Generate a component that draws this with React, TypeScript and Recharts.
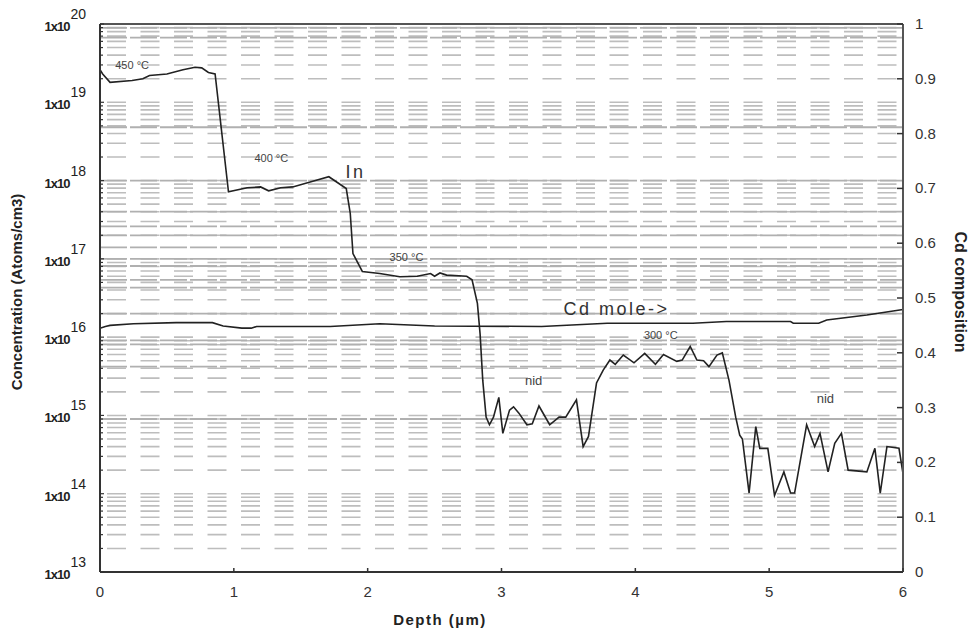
import React from "react"
import { ComposedChart, Line, XAxis, YAxis, ReferenceLine, ReferenceDot } from "recharts"

// In profile (depth in µm, concentration in atoms/cm3)
const IN_DEPTH = [
  0, 0.02, 0.075, 0.24, 0.32, 0.37, 0.5, 0.62, 0.71, 0.76, 0.81, 0.86, 0.96, 1.1, 1.2, 1.26, 1.35, 1.44,
  1.59, 1.71, 1.84, 1.87, 1.89, 1.96, 2.09, 2.24, 2.37, 2.47, 2.5, 2.54, 2.59, 2.74, 2.78, 2.82, 2.84,
  2.86, 2.885, 2.91, 2.94, 2.98, 3.01, 3.06, 3.09, 3.13, 3.19, 3.23, 3.28, 3.36, 3.43, 3.48, 3.56, 3.61,
  3.65, 3.71, 3.76, 3.81, 3.85, 3.91, 3.99, 4.07, 4.15, 4.21, 4.31, 4.35, 4.41, 4.46, 4.51, 4.55, 4.61,
  4.65, 4.7, 4.75, 4.78, 4.8, 4.85, 4.9, 4.93, 4.99, 5.04, 5.11, 5.16, 5.19, 5.28, 5.34, 5.38, 5.44,
  5.49, 5.54, 5.59, 5.73, 5.79, 5.83, 5.88, 5.97, 6.0,
]
const IN_CONC = [
  2.6e19, 2.3e19, 1.8e19, 1.9e19, 2.0e19, 2.2e19, 2.3e19, 2.6e19, 2.8e19, 2.75e19, 2.4e19, 2.3e19,
  7.2e17, 8.1e17, 8.3e17, 7.4e17, 8.1e17, 8.3e17, 9.8e17, 1.12e18, 7.9e17, 3.8e17, 1.17e17, 6.9e16,
  6.5e16, 5.9e16, 6.0e16, 6.5e16, 6.0e16, 6.6e16, 6.2e16, 6.0e16, 5.4e16, 2.7e16, 1.1e16, 2.8e15,
  9.5e14, 7.6e14, 9.5e14, 1.7e15, 5.9e14, 1.17e15, 1.29e15, 1.07e15, 7.6e14, 7.8e14, 1.32e15, 7.6e14,
  9.5e14, 9.5e14, 1.58e15, 4.0e14, 5.4e14, 2.6e15, 3.8e15, 5.1e15, 4.5e15, 5.9e15, 4.7e15, 6.2e15,
  4.5e15, 6.0e15, 4.9e15, 5.1e15, 7.6e15, 5.1e15, 5.0e15, 4.2e15, 5.9e15, 6.3e15, 2.8e15, 9.5e14,
  5.6e14, 5.0e14, 1.02e14, 7.2e14, 3.8e14, 3.8e14, 9.5e13, 1.9e14, 1.02e14, 1.02e14, 7.6e14, 4.0e14,
  5.9e14, 1.9e14, 4.4e14, 5.9e14, 2.0e14, 1.9e14, 3.8e14, 1.02e14, 4.0e14, 3.8e14, 1.8e14,
]

// Cd mole fraction
const CD_DEPTH = [0, 0.04, 0.075, 0.25, 0.57, 0.84, 0.92, 1.06, 1.13, 1.17, 1.42, 1.72, 2.09, 2.5, 3.3, 3.79, 4.43, 4.68, 5.16, 5.18, 5.37, 5.43, 5.73, 6.0]
const CD_VALUE = [0.445, 0.448, 0.45, 0.453, 0.455, 0.455, 0.449, 0.445, 0.445, 0.448, 0.448, 0.448, 0.453, 0.449, 0.448, 0.454, 0.454, 0.457, 0.457, 0.454, 0.454, 0.46, 0.469, 0.479]

const X_TICKS = [0, 1, 2, 3, 4, 5, 6]
const CD_TICKS = [0, 0.1, 0.2, 0.3, 0.4, 0.5, 0.6, 0.7, 0.8, 0.9, 1]

// annotations
const NOTE_TEXT = ["450 °C", "400 °C", "In", "350 °C", "Cd mole->", "300 °C", "nid", "nid"]
const NOTE_DEPTH = [0.24, 1.28, 1.91, 2.29, 3.86, 4.19, 3.24, 5.42]
const NOTE_CONC = [3.0e19, 1.95e18, 1.3e18, 1.07e17, 2.3e16, 1.07e16, 2.8e15, 1.66e15]

// scanned-looking long grid strokes
const LONG_GRID = [8.9e19, 6.7e19, 4.8e18, 1e18, 4e17, 2.6e17, 2.0e17, 1.4e17, 1.0e17, 8.1e16, 5.4e16, 4.3e16, 2.0e16, 9.1e15, 8.1e15, 4.2e15, 9.0e14]

const MINOR: number[] = []
for (let e = 13; e < 20; e++) for (let m = 1; m < 10; m++) MINOR.push(Number(`${m}e${e}`))
const LOG_TICKS = [...MINOR, 1e20]

const inRows = IN_DEPTH.map((d, i) => ({ depth: d, conc: IN_CONC[i] }))
const cdRows = CD_DEPTH.map((d, i) => ({ depth: d, cd: CD_VALUE[i] }))

const FONT = "'Liberation Sans', Arial, sans-serif"

function LeftTick(props: any) {
  const { x, y, payload } = props
  const v = payload.value
  const e = Math.round(Math.log10(v))
  const isDecade = Math.abs(v - Math.pow(10, e)) / v < 1e-6
  return (
    <g>
      <line x1={x} x2={x + (isDecade ? 4 : 3)} y1={y} y2={y} stroke="#333" strokeWidth={1.2} />
      {isDecade && (
        <text x={x - 14} y={y + 7} textAnchor="end" fontFamily={FONT} fill="#222">
          <tspan fontSize={13} fontWeight="bold" letterSpacing={-1}>1x10</tspan>
          <tspan dy={-12} dx={1} fontSize={14}>{e}</tspan>
        </text>
      )}
    </g>
  )
}

function RightTick(props: any) {
  const { x, y, payload } = props
  return (
    <g>
      <line x1={x} x2={x - 6} y1={y} y2={y} stroke="#333" strokeWidth={1.5} />
      <text x={x + 12} y={y + 5} textAnchor="start" fontFamily={FONT} fontSize={15} fill="#333">
        {String(payload.value)}
      </text>
    </g>
  )
}

function BottomTick(props: any) {
  const { x, y, payload } = props
  return (
    <g>
      <line x1={x} x2={x} y1={y} y2={y - 4} stroke="#333" strokeWidth={1.5} />
      <text x={x} y={y + 25} textAnchor="middle" fontFamily={FONT} fontSize={15} fill="#333">
        {payload.value}
      </text>
    </g>
  )
}

function Note(props: any) {
  const { cx, cy, text } = props
  const big = text === "In" || text === "Cd mole->"
  const nid = text === "nid"
  return (
    <text
      x={cx}
      y={cy}
      textAnchor="middle"
      dominantBaseline="central"
      fontFamily={FONT}
      fontSize={big ? 18 : nid ? 13 : 11}
      letterSpacing={big ? 2.5 : 0}
      fill={big ? "#333" : "#444"}
    >
      {text}
    </text>
  )
}

export default function App() {
  return (
    <div style={{ position: "absolute", left: 0, top: 0, width: 974, height: 634, background: "#fff" }}>
      <ComposedChart width={974} height={634} margin={{ top: 24, right: 0, bottom: 0, left: 0 }}>
        <XAxis
          type="number"
          dataKey="depth"
          domain={[0, 6]}
          ticks={X_TICKS}
          allowDuplicatedCategory={false}
          height={62}
          tickSize={0}
          tickMargin={0}
          tick={<BottomTick />}
          axisLine={{ stroke: "#333", strokeWidth: 2 }}
          tickLine={false}
        />
        <YAxis
          yAxisId="conc"
          scale="log"
          domain={[1e13, 1e20]}
          allowDataOverflow
          ticks={LOG_TICKS}
          interval={0}
          width={100}
          tickSize={0}
          tickMargin={0}
          tick={<LeftTick />}
          axisLine={{ stroke: "#333", strokeWidth: 2 }}
          tickLine={false}
        />
        <YAxis
          yAxisId="cd"
          orientation="right"
          domain={[0, 1]}
          ticks={CD_TICKS}
          interval={0}
          width={71}
          tickSize={0}
          tickMargin={0}
          tick={<RightTick />}
          axisLine={{ stroke: "#555", strokeWidth: 2 }}
          tickLine={false}
        />
        {MINOR.map((v) => (
          <ReferenceLine
            key={`m-${v}`}
            yAxisId="conc"
            y={v}
            stroke="#bdbdbd"
            strokeWidth={1.6}
            strokeDasharray="0 7 19 7.5"
          />
        ))}
        {LONG_GRID.map((v) => (
          <ReferenceLine key={`l-${v}`} yAxisId="conc" y={v} stroke="#b0b0b0" strokeWidth={1.8} strokeDasharray="27 3" />
        ))}
        <ReferenceLine yAxisId="conc" y={1e20} stroke="#555" strokeWidth={2} />
        <Line
          yAxisId="conc"
          data={inRows}
          dataKey="conc"
          type="linear"
          stroke="#222"
          strokeWidth={1.6}
          dot={false}
          isAnimationActive={false}
        />
        <Line
          yAxisId="cd"
          data={cdRows}
          dataKey="cd"
          type="linear"
          stroke="#222"
          strokeWidth={1.6}
          dot={false}
          isAnimationActive={false}
        />
        {NOTE_TEXT.map((t, i) => (
          <ReferenceDot
            key={`n-${i}`}
            yAxisId="conc"
            x={NOTE_DEPTH[i]}
            y={NOTE_CONC[i]}
            r={0}
            shape={(p: any) => <Note {...p} text={t} />}
          />
        ))}
      </ComposedChart>
      <svg width={974} height={634} style={{ position: "absolute", left: 0, top: 0, pointerEvents: "none" }}>
        <text
          transform="translate(22 292) rotate(-90)"
          textAnchor="middle"
          fontFamily={FONT}
          fontSize={15}
          fontWeight="bold"
          fill="#222"
        >
          Concentration (Atoms/cm3)
        </text>
        <text
          transform="translate(955 292) rotate(90)"
          textAnchor="middle"
          fontFamily={FONT}
          fontSize={16}
          fontWeight="bold"
          fill="#222"
        >
          Cd composition
        </text>
        <text x={440} y={625} textAnchor="middle" fontFamily={FONT} fontSize={15} fontWeight="bold" fill="#222" letterSpacing={1.5}>
          Depth (µm)
        </text>
      </svg>
    </div>
  )
}
